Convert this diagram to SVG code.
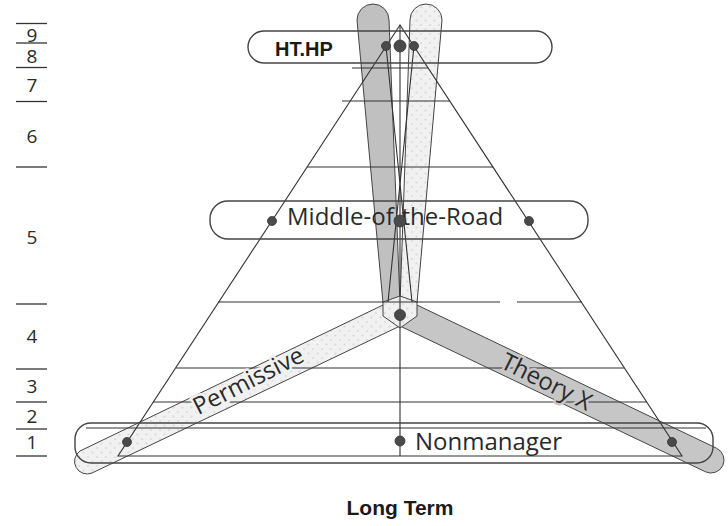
<svg xmlns="http://www.w3.org/2000/svg" width="728" height="526" viewBox="0 0 728 526">
  <defs>
    <pattern id="speckle" width="9" height="9" patternUnits="userSpaceOnUse">
      <rect width="9" height="9" fill="#f1f1f1"/>
      <circle cx="2.5" cy="2.5" r="1.1" fill="#d8d8d8"/>
      <circle cx="7" cy="7" r="1.1" fill="#dcdcdc"/>
    </pattern>
  </defs>
  <style>
    .ln{fill:none;stroke:#333;stroke-width:1.1}
    .out{fill:none;stroke:#444;stroke-width:1.4}
    .bar{stroke:#444;stroke-width:1}
    .lab{font-family:"Open Sans","Noto Sans",sans-serif;font-size:24px;fill:#2a2a2a}
    .num{font-family:"Open Sans","Noto Sans",sans-serif;font-size:19px;fill:#2a2a2a;text-anchor:middle}
    .bold{font-family:"Liberation Sans",Arial,sans-serif;font-weight:bold;fill:#1a1a1a}
    .dot{fill:#4a4a4a;stroke:#333;stroke-width:0.8}
    .scale{stroke:#333;stroke-width:1.3}
  </style>
  <rect width="728" height="526" fill="#fff"/>

  <!-- level scale on the left -->
  <g id="scale">
    <g class="scale">
      <line x1="16" y1="23.5" x2="47" y2="23.5"/>
      <line x1="16" y1="43" x2="47" y2="43"/>
      <line x1="16" y1="67.5" x2="47" y2="67.5"/>
      <line x1="16" y1="101.5" x2="47" y2="101.5"/>
      <line x1="16" y1="167" x2="47" y2="167"/>
      <line x1="16" y1="304" x2="47" y2="304"/>
      <line x1="16" y1="369" x2="47" y2="369"/>
      <line x1="16" y1="402" x2="47" y2="402"/>
      <line x1="16" y1="429" x2="47" y2="429"/>
      <line x1="16" y1="456" x2="47" y2="456"/>
    </g>
    <text class="num" x="32" y="42">9</text>
    <text class="num" x="32" y="63">8</text>
    <text class="num" x="32" y="92">7</text>
    <text class="num" x="32" y="143">6</text>
    <text class="num" x="32" y="244">5</text>
    <text class="num" x="32" y="343">4</text>
    <text class="num" x="32" y="393">3</text>
    <text class="num" x="32" y="423">2</text>
    <text class="num" x="32" y="449">1</text>
  </g>

  <!-- shaded style bars -->
  <g id="permissive-bar">
    <path class="bar" fill="url(#speckle)" d="M383,305 L80,451 A12.6,12.6 0 0 0 92,473 L400,326 Z"/>
  </g>
  <g id="theoryx-bar">
    <path class="bar" fill="#c6c6c6" d="M417,305 L716.5,448.2 A13,13 0 0 1 705.5,471.8 L400,326 Z"/>
  </g>
  <g id="upper-bars">
    <path class="bar" fill="#c0c0c0" d="M383,303 L357,20 A16,16 0 0 1 389,20 L400,303 Z"/>
    <path class="bar" fill="url(#speckle)" d="M400,303 L410,20 A16,16 0 0 1 442,20 L417,303 Z"/>
  </g>
  <g id="joint">
    <path class="bar" fill="url(#speckle)" d="M383,302 L400,296 L417,302 L417,316 L400,328 L383,316 Z"/>
  </g>

  <!-- connectors: triangle, grid levels and cross lines -->
  <g id="connectors" class="ln">
    <path d="M400,25 L118,456 L682,456 Z"/>
    <path d="M400,25 V456"/>
    <path d="M386,46 L412,302 M414,46 L388,302"/>
    <path d="M352,68 H428"/>
    <path d="M342,101 H450"/>
    <path d="M307,167 H493"/>
    <path d="M218,302 H500 M517,302 H582"/>
    <path d="M176,368 H624"/>
    <path d="M153,402 H647"/>
    <path d="M86,428 H706"/>
  </g>

  <!-- style nodes -->
  <g id="node-htph">
    <rect class="out" x="248" y="31" width="304" height="32" rx="16"/>
    <text class="bold" x="275" y="56" font-size="20">HT.HP</text>
    <circle class="dot" cx="386" cy="46" r="4.5"/>
    <circle class="dot" cx="400" cy="46" r="6"/>
    <circle class="dot" cx="414" cy="46" r="4.5"/>
  </g>
  <g id="node-middle">
    <rect class="out" x="210" y="201" width="378" height="38" rx="18"/>
    <text class="lab" x="287" y="225" font-size="24.8">Middle-of-the-Road</text>
    <circle class="dot" cx="272" cy="221" r="4.5"/>
    <circle class="dot" cx="400" cy="221" r="6"/>
    <circle class="dot" cx="529" cy="221" r="4.5"/>
  </g>
  <g id="node-joint">
    <circle class="dot" cx="400" cy="315" r="5.5"/>
  </g>
  <g id="node-permissive">
    <text class="lab" text-anchor="middle" stroke="#f1f1f1" stroke-width="5" paint-order="stroke" transform="translate(252,388) rotate(-27)">Permissive</text>
    <circle class="dot" cx="127" cy="442" r="4.5"/>
  </g>
  <g id="node-theoryx">
    <text class="lab" text-anchor="middle" stroke="#c6c6c6" stroke-width="5" paint-order="stroke" transform="translate(543,389) rotate(26.5)">Theory X</text>
    <circle class="dot" cx="672" cy="442" r="4.5"/>
  </g>
  <g id="node-nonmanager">
    <rect class="out" x="75" y="423" width="638" height="40" rx="16"/>
    <text class="lab" x="415" y="450">Nonmanager</text>
    <circle class="dot" cx="400" cy="441" r="5"/>
  </g>

  <text class="bold" x="400" y="515" font-size="21" text-anchor="middle">Long Term</text>
</svg>
